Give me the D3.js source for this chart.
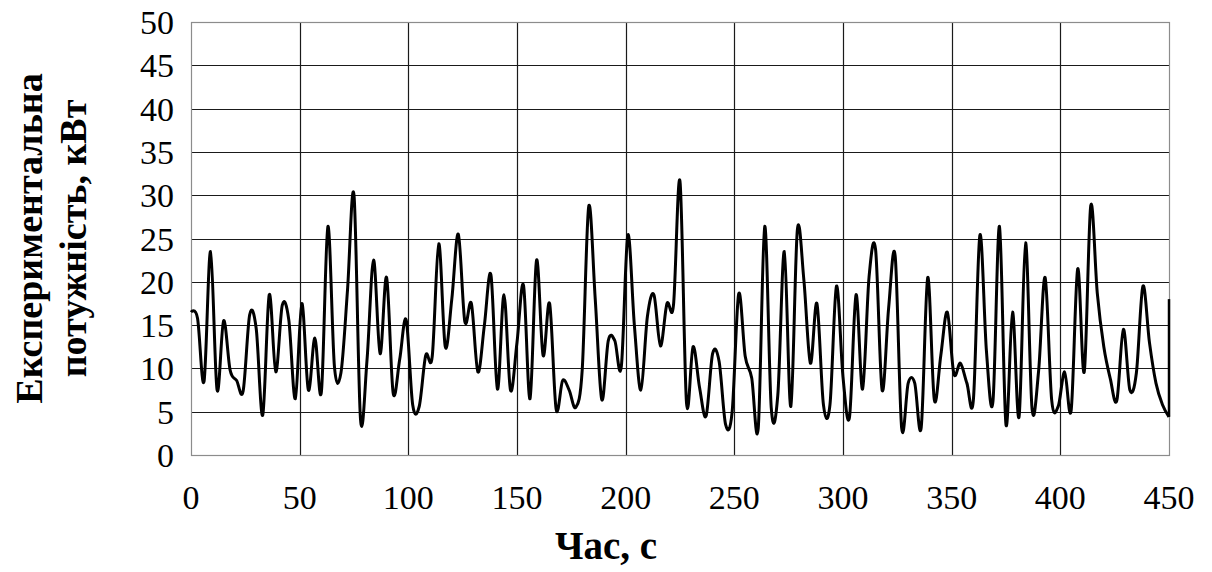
<!DOCTYPE html>
<html>
<head>
<meta charset="utf-8">
<script src="https://cdn.jsdelivr.net/npm/d3@7"></script>
</head>
<body style="margin:0">
<svg id="chart" width="1212" height="572"></svg>
<script>
// ---- data ----
const times = [
  0, 3, 6, 9, 12, 15, 18, 21, 24, 27, 30, 33, 36, 39, 42, 45, 48, 51, 54, 57,
  60, 63, 66, 69, 72, 75, 78, 81, 84, 87, 90, 93, 96, 99, 102, 105, 108, 111, 114, 117,
  120, 123, 126, 129, 132, 135, 138, 141, 144, 147, 150, 153, 156, 159, 162, 165, 168, 171, 174, 177,
  180, 183, 186, 189, 192, 195, 198, 201, 204, 207, 210, 213, 216, 219, 222, 225, 228, 231, 234, 237,
  240, 243, 246, 249, 252, 255, 258, 261, 264, 267, 270, 273, 276, 279, 282, 285, 288, 291, 294, 297,
  300, 303, 306, 309, 312, 315, 318, 321, 324, 327, 330, 333, 336, 339, 342, 345, 348, 351, 354, 357,
  360, 363, 366, 369, 372, 375, 378, 381, 384, 387, 390, 393, 396, 399, 402, 405, 408, 411, 414, 417,
  420, 423, 426, 429, 432, 435, 438, 441, 444, 447, 450
];
const power = [
  16.5, 15.8, 8.5, 23.5, 7.5, 15.5, 9.8, 8.6, 7.4, 16.2, 14.6, 4.6, 18.5, 9.6, 17.3, 15.6, 6.5, 17.5, 7.5, 13.5,
  7.3, 26.4, 10.2, 9.5, 19.0, 30.0, 4.1, 11.0, 22.5, 11.7, 20.5, 7.2, 11.0, 15.6, 5.8, 5.6, 11.5, 11.4, 24.4, 12.5,
  18.0, 25.5, 15.4, 17.5, 9.6, 15.0, 20.8, 7.6, 18.5, 7.5, 13.0, 19.6, 6.5, 22.5, 11.5, 17.5, 5.3, 8.6, 7.5, 5.5,
  9.8, 28.7, 18.0, 6.4, 13.2, 13.2, 10.2, 25.4, 15.0, 7.5, 16.0, 18.5, 12.6, 17.5, 17.3, 31.6, 6.0, 12.5, 7.8, 4.5,
  11.7, 10.8, 3.5, 5.0, 18.6, 11.4, 8.9, 3.1, 26.4, 5.4, 6.9, 23.5, 5.6, 26.0, 20.2, 10.6, 17.5, 5.8, 5.8, 19.5,
  9.0, 4.4, 18.5, 7.6, 20.6, 23.7, 7.5, 17.0, 23.0, 3.1, 8.3, 8.3, 3.2, 20.5, 6.4, 11.5, 16.5, 9.4, 10.6, 8.3,
  6.4, 25.4, 12.0, 6.2, 26.4, 3.5, 16.5, 4.4, 24.5, 5.3, 9.7, 20.5, 6.4, 5.6, 9.6, 5.2, 21.5, 9.6, 28.8, 18.7,
  12.5, 8.8, 6.3, 14.5, 7.5, 9.5, 19.5, 13.0, 8.3, 5.8, 4.4
];
// the series continues past the axis end; only the rise at the right edge is visible
const edgeTime = [450, 450];
const edgePower = [4.4, 18.0];

const xTicks = [0, 50, 100, 150, 200, 250, 300, 350, 400, 450];
const yTicks = [0, 5, 10, 15, 20, 25, 30, 35, 40, 45, 50];
const xTitle = "Час, с";
const yTitleLines = ["Експериментальна", "потужність, кВт"];

// ---- layout ----
const FONT = '"Liberation Serif"';
const plot = { left: 191, right: 1169, top: 22, bottom: 455 };
const svg = d3.select("#chart");

const x = d3.scaleLinear().domain([0, 450]).range([plot.left, plot.right]);
const y = d3.scaleLinear().domain([0, 50]).range([plot.bottom, plot.top]);

// gridlines
svg.append("g")
  .selectAll("line")
  .data(yTicks.filter(d => d > 0))
  .join("line")
  .attr("x1", plot.left).attr("x2", plot.right)
  .attr("y1", d => Math.round(y(d)) + 0.5).attr("y2", d => Math.round(y(d)) + 0.5)
  .attr("stroke", "#1a1a1a").attr("stroke-width", 1.2);

svg.append("g")
  .selectAll("line")
  .data(xTicks.filter(d => d > 0 && d < 450))
  .join("line")
  .attr("y1", plot.top).attr("y2", plot.bottom)
  .attr("x1", d => Math.round(x(d)) + 0.5).attr("x2", d => Math.round(x(d)) + 0.5)
  .attr("stroke", "#1a1a1a").attr("stroke-width", 1.2);

// plot border
svg.append("rect")
  .attr("x", plot.left + 0.5).attr("y", plot.top + 0.5)
  .attr("width", plot.right - plot.left).attr("height", plot.bottom - plot.top)
  .attr("fill", "none").attr("stroke", "#8c8c8c").attr("stroke-width", 1.2);

// tick labels
yTicks.forEach(v => {
  svg.append("text")
    .attr("x", plot.left - 17).attr("y", y(v) + 12)
    .attr("text-anchor", "end")
    .style("font-family", FONT)
    .attr("font-size", 34)
    .text(String(v));
});

xTicks.forEach(v => {
  svg.append("text")
    .attr("x", x(v)).attr("y", plot.bottom + 54)
    .attr("text-anchor", "middle")
    .style("font-family", FONT)
    .attr("font-size", 34)
    .text(String(v));
});

// data line (smoothed, like the spreadsheet's smoothed line)
const pts = times.map((t, i) => [t, power[i]]);
const line = d3.line()
  .x(d => x(d[0])).y(d => y(d[1]))
  .curve(d3.curveCardinal.tension(0));

svg.append("path")
  .datum(pts)
  .attr("d", line)
  .attr("fill", "none")
  .attr("stroke", "#000")
  .attr("stroke-width", 3)
  .attr("stroke-linejoin", "round");

const edgePts = edgeTime.map((t, i) => [t, edgePower[i]]);
svg.append("path")
  .datum(edgePts)
  .attr("d", d3.line().x(d => x(d[0])).y(d => y(d[1])))
  .attr("fill", "none")
  .attr("stroke", "#000")
  .attr("stroke-width", 2.5);

// titles
svg.append("text")
  .attr("x", 606).attr("y", 559)
  .attr("text-anchor", "middle")
  .style("font-family", FONT)
  .attr("font-weight", "bold")
  .attr("font-size", 39)
  .text(xTitle);

const yt = svg.append("text")
  .attr("transform", `translate(0,${(plot.top + plot.bottom) / 2}) rotate(-90)`)
  .attr("text-anchor", "middle")
  .style("font-family", FONT)
  .attr("font-weight", "bold")
  .attr("font-size", 38);
yt.append("tspan").attr("x", 0).attr("y", 42).text(yTitleLines[0]);
yt.append("tspan").attr("x", 0).attr("y", 86).text(yTitleLines[1]);
</script>
</body>
</html>
